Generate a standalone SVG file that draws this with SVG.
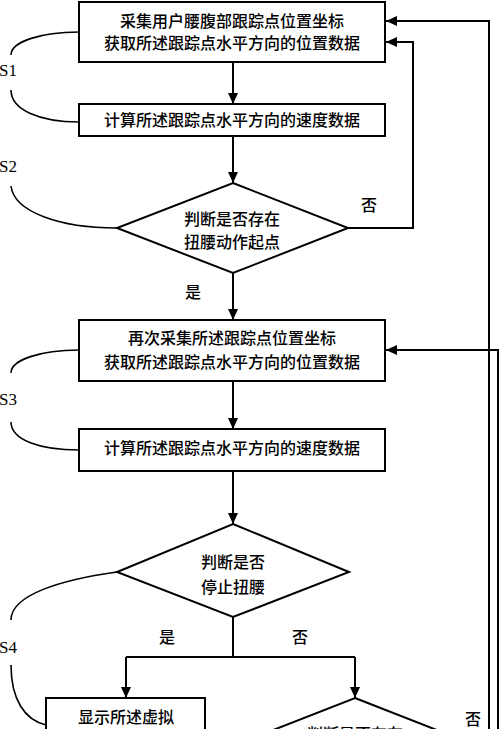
<svg xmlns="http://www.w3.org/2000/svg" width="500" height="729" viewBox="0 0 500 729">
<defs>
<marker id="arr" markerUnits="userSpaceOnUse" markerWidth="12" markerHeight="10" refX="11" refY="5" orient="auto">
<path d="M0,0 L11,5 L0,10 Z" fill="#000"/>
</marker>
<style>
.box{fill:#fff;stroke:#000;stroke-width:2}
.t{font-family:"Noto Sans CJK SC","Noto Sans CJK JP",sans-serif;font-size:16px;font-weight:500;text-anchor:middle;fill:#000}
.s{font-family:"Liberation Serif",serif;font-size:17px;fill:#000}
.c{fill:none;stroke:#000;stroke-width:2}
.a{fill:none;stroke:#000;stroke-width:2;marker-end:url(#arr)}
.cv{fill:none;stroke:#000;stroke-width:1.6}
</style>
</defs>
<rect width="500" height="729" fill="#fff"/>
<g id="connectors">
<path class="a" d="M233,62 V104"/>
<path class="a" d="M233,136 V183"/>
<path class="a" d="M348,228 H413 V42 H386"/>
<path class="a" d="M233,273 V320"/>
<path class="a" d="M233,381 V429"/>
<path class="a" d="M233,471 V524"/>
<path class="c" d="M233,617 V657 M126,657 H355"/>
<path class="a" d="M126,657 V698"/>
<path class="a" d="M355,657 V698"/>
<path class="a" d="M489,729 V21 H386"/>
<path class="a" d="M498,729 V350 H386"/>
</g>
<g id="brackets">
<path class="cv" d="M79,32 C40,32 11,42 11,55"/>
<path class="cv" d="M11,90 C11,110 40,122 79,122"/>
<path class="cv" d="M11,186 C14,212 60,228 117,228"/>
<path class="cv" d="M79,350 C40,350 11,360 11,373"/>
<path class="cv" d="M11,422 C11,440 40,450 79,450"/>
<path class="cv" d="M117,572 C60,580 11,595 11,620"/>
<path class="cv" d="M11,665 C11,700 25,720 46,725"/>
<text class="s" x="-1" y="76">S1</text>
<text class="s" x="-1" y="172">S2</text>
<text class="s" x="-1" y="405">S3</text>
<text class="s" x="-1" y="653">S4</text>
</g>
<g id="n1">
<rect class="box" x="79" y="2" width="306" height="60"/>
<text class="t" x="232" y="27">采集用户腰腹部跟踪点位置坐标</text>
<text class="t" x="232" y="49">获取所述跟踪点水平方向的位置数据</text>
</g>
<g id="n2">
<rect class="box" x="79" y="104" width="306" height="32"/>
<text class="t" x="232" y="126">计算所述跟踪点水平方向的速度数据</text>
</g>
<g id="d1">
<polygon class="box" points="233,183 348,228 233,273 117,228"/>
<text class="t" x="232" y="225">判断是否存在</text>
<text class="t" x="232" y="248">扭腰动作起点</text>
</g>
<g id="labels">
<text class="t" x="369" y="211">否</text>
<text class="t" x="193" y="298">是</text>
<text class="t" x="167" y="643">是</text>
<text class="t" x="300" y="643">否</text>
<text class="t" x="473" y="725">否</text>
</g>
<g id="n3">
<rect class="box" x="79" y="320" width="306" height="61"/>
<text class="t" x="232" y="344">再次采集所述跟踪点位置坐标</text>
<text class="t" x="232" y="368">获取所述跟踪点水平方向的位置数据</text>
</g>
<g id="n4">
<rect class="box" x="79" y="429" width="306" height="42"/>
<text class="t" x="232" y="454">计算所述跟踪点水平方向的速度数据</text>
</g>
<g id="d2">
<polygon class="box" points="233,524 349,572 233,617 117,572"/>
<text class="t" x="233" y="568">判断是否</text>
<text class="t" x="233" y="593">停止扭腰</text>
</g>
<g id="n5">
<rect class="box" x="46" y="698" width="159" height="60"/>
<text class="t" x="126" y="723">显示所述虚拟</text>
</g>
<g id="d3">
<polygon class="box" points="355,698 470,743 355,788 240,743"/>
<text class="t" x="355" y="740">判断是否存在</text>
</g>
</svg>
